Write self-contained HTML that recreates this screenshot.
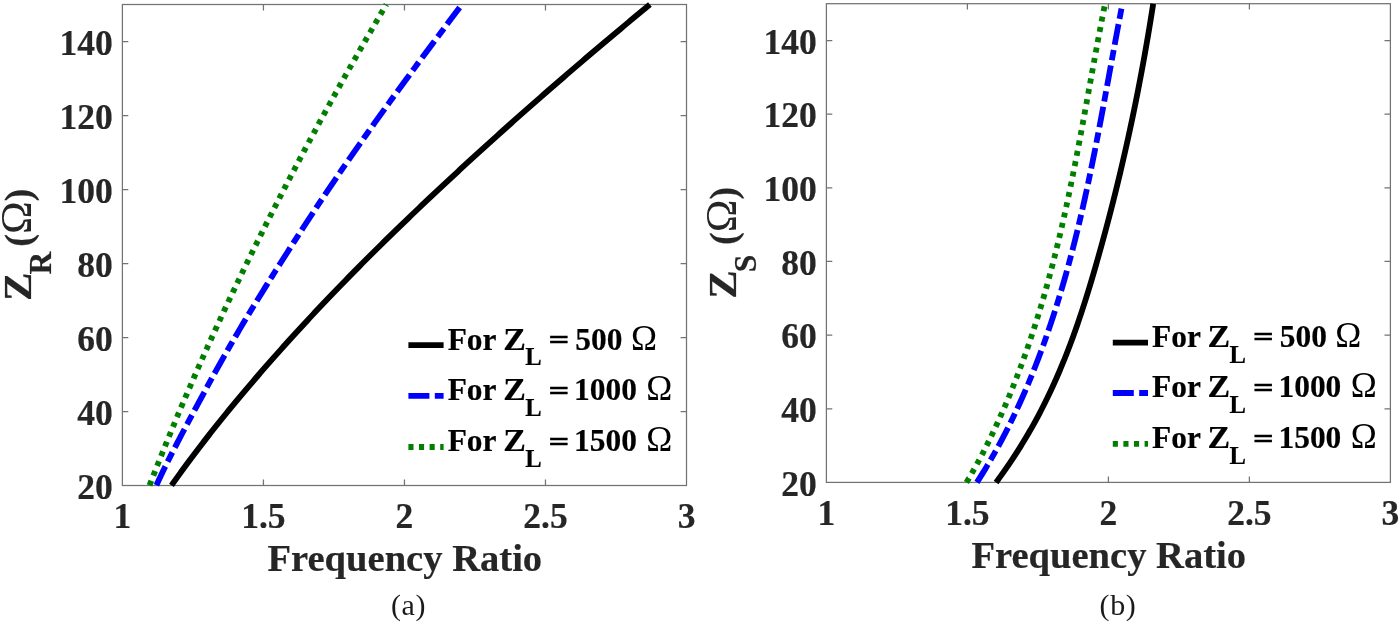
<!DOCTYPE html>
<html><head><meta charset="utf-8"><style>
html,body{margin:0;padding:0;background:#fff;width:1400px;height:624px;overflow:hidden}
svg{display:block;will-change:transform}
text{font-family:"Liberation Serif",serif}
</style></head><body>
<svg width="1400" height="624" viewBox="0 0 1400 624">
<rect width="1400" height="624" fill="#fff"/>
<rect x="122.4" y="4.5" width="564.10" height="481.00" fill="none" stroke="#737373" stroke-width="1.25"/>
<path d="M263.43,485.5v-5.9M263.43,4.5v5.9M404.45,485.5v-5.9M404.45,4.5v5.9M545.48,485.5v-5.9M545.48,4.5v5.9M122.4,411.50h5.9M686.5,411.50h-5.9M122.4,337.50h5.9M686.5,337.50h-5.9M122.4,263.50h5.9M686.5,263.50h-5.9M122.4,189.50h5.9M686.5,189.50h-5.9M122.4,115.50h5.9M686.5,115.50h-5.9M122.4,41.50h5.9M686.5,41.50h-5.9" stroke="#737373" stroke-width="1.25" fill="none"/>
<path d="M171.47,485.40 L172.89,483.39 L174.32,481.38 L175.75,479.36 L177.19,477.35 L178.63,475.34 L180.09,473.33 L181.55,471.32 L183.01,469.30 L184.48,467.29 L185.96,465.28 L187.45,463.27 L188.94,461.25 L190.44,459.24 L191.94,457.23 L193.45,455.22 L194.97,453.21 L196.50,451.19 L198.03,449.18 L199.56,447.17 L201.11,445.16 L202.65,443.15 L204.21,441.13 L205.77,439.12 L207.34,437.11 L208.91,435.10 L210.49,433.08 L212.07,431.07 L213.66,429.06 L215.26,427.05 L216.86,425.04 L218.47,423.02 L220.08,421.01 L221.70,419.00 L223.33,416.99 L224.96,414.98 L226.60,412.96 L228.24,410.95 L229.88,408.94 L231.54,406.93 L233.20,404.91 L234.86,402.90 L236.53,400.89 L238.20,398.88 L239.88,396.87 L241.57,394.85 L243.26,392.84 L244.95,390.83 L246.65,388.82 L248.36,386.81 L250.07,384.79 L251.78,382.78 L253.50,380.77 L255.23,378.76 L256.96,376.74 L258.70,374.73 L260.44,372.72 L262.18,370.71 L263.94,368.70 L265.69,366.68 L267.45,364.67 L269.22,362.66 L270.99,360.65 L272.76,358.64 L274.54,356.62 L276.33,354.61 L278.12,352.60 L279.91,350.59 L281.71,348.57 L283.52,346.56 L285.33,344.55 L287.14,342.54 L288.96,340.53 L290.78,338.51 L292.61,336.50 L294.44,334.49 L296.28,332.48 L298.13,330.47 L299.97,328.45 L301.83,326.44 L303.68,324.43 L305.55,322.42 L307.41,320.41 L309.28,318.39 L311.16,316.38 L313.04,314.37 L314.93,312.36 L316.82,310.34 L318.71,308.33 L320.61,306.32 L322.52,304.31 L324.43,302.30 L326.34,300.28 L328.26,298.27 L330.18,296.26 L332.11,294.25 L334.04,292.24 L335.98,290.22 L337.92,288.21 L339.87,286.20 L341.82,284.19 L343.78,282.17 L345.74,280.16 L347.71,278.15 L349.68,276.14 L351.65,274.13 L353.63,272.11 L355.61,270.10 L357.60,268.09 L359.60,266.08 L361.59,264.07 L363.60,262.05 L365.60,260.04 L367.61,258.03 L369.63,256.02 L371.65,254.00 L373.67,251.99 L375.70,249.98 L377.74,247.97 L379.78,245.96 L381.82,243.94 L383.86,241.93 L385.91,239.92 L387.97,237.91 L390.03,235.90 L392.09,233.88 L394.16,231.87 L396.23,229.86 L398.31,227.85 L400.39,225.83 L402.47,223.82 L404.56,221.81 L406.65,219.80 L408.74,217.79 L410.84,215.77 L412.94,213.76 L415.05,211.75 L417.16,209.74 L419.27,207.73 L421.39,205.71 L423.51,203.70 L425.64,201.69 L427.77,199.68 L429.90,197.66 L432.03,195.65 L434.17,193.64 L436.31,191.63 L438.46,189.62 L440.61,187.60 L442.76,185.59 L444.92,183.58 L447.08,181.57 L449.24,179.56 L451.41,177.54 L453.57,175.53 L455.75,173.52 L457.92,171.51 L460.10,169.49 L462.28,167.48 L464.47,165.47 L466.66,163.46 L468.85,161.45 L471.05,159.43 L473.25,157.42 L475.45,155.41 L477.66,153.40 L479.87,151.39 L482.08,149.37 L484.30,147.36 L486.52,145.35 L488.74,143.34 L490.96,141.33 L493.19,139.31 L495.43,137.30 L497.66,135.29 L499.90,133.28 L502.14,131.26 L504.39,129.25 L506.64,127.24 L508.89,125.23 L511.15,123.22 L513.41,121.20 L515.67,119.19 L517.94,117.18 L520.21,115.17 L522.48,113.16 L524.75,111.14 L527.03,109.13 L529.31,107.12 L531.60,105.11 L533.89,103.09 L536.18,101.08 L538.48,99.07 L540.78,97.06 L543.08,95.05 L545.38,93.03 L547.69,91.02 L550.00,89.01 L552.32,87.00 L554.64,84.99 L556.96,82.97 L559.28,80.96 L561.61,78.95 L563.94,76.94 L566.27,74.92 L568.61,72.91 L570.95,70.90 L573.29,68.89 L575.64,66.88 L577.99,64.86 L580.34,62.85 L582.70,60.84 L585.06,58.83 L587.42,56.82 L589.78,54.80 L592.15,52.79 L594.52,50.78 L596.90,48.77 L599.28,46.75 L601.66,44.74 L604.04,42.73 L606.43,40.72 L608.82,38.71 L611.21,36.69 L613.60,34.68 L616.00,32.67 L618.40,30.66 L620.81,28.65 L623.22,26.63 L625.63,24.62 L628.04,22.61 L630.46,20.60 L632.88,18.58 L635.30,16.57 L637.73,14.56 L640.15,12.55 L642.58,10.54 L645.02,8.52 L647.46,6.51 L649.90,4.50" fill="none" stroke="#000000" stroke-width="5.8"/>
<path d="M156.41,485.30 L157.33,483.29 L158.25,481.28 L159.18,479.26 L160.12,477.25 L161.07,475.24 L162.03,473.23 L162.99,471.22 L163.96,469.21 L164.94,467.19 L165.93,465.18 L166.92,463.17 L167.92,461.16 L168.93,459.15 L169.94,457.14 L170.96,455.12 L171.98,453.11 L173.01,451.10 L174.04,449.09 L175.08,447.08 L176.12,445.07 L177.17,443.05 L178.21,441.04 L179.27,439.03 L180.32,437.02 L181.38,435.01 L182.44,433.00 L183.50,430.98 L184.57,428.97 L185.63,426.96 L186.70,424.95 L187.77,422.94 L188.84,420.93 L189.92,418.91 L190.99,416.90 L192.06,414.89 L193.14,412.88 L194.22,410.87 L195.29,408.85 L196.37,406.84 L197.45,404.83 L198.53,402.82 L199.61,400.81 L200.70,398.80 L201.78,396.78 L202.87,394.77 L203.96,392.76 L205.05,390.75 L206.14,388.74 L207.23,386.73 L208.33,384.71 L209.43,382.70 L210.53,380.69 L211.63,378.68 L212.73,376.67 L213.84,374.66 L214.95,372.64 L216.06,370.63 L217.18,368.62 L218.30,366.61 L219.42,364.60 L220.54,362.59 L221.67,360.57 L222.80,358.56 L223.93,356.55 L225.07,354.54 L226.21,352.53 L227.36,350.52 L228.51,348.50 L229.66,346.49 L230.81,344.48 L231.97,342.47 L233.14,340.46 L234.31,338.44 L235.48,336.43 L236.65,334.42 L237.84,332.41 L239.02,330.40 L240.21,328.39 L241.40,326.37 L242.60,324.36 L243.80,322.35 L245.00,320.34 L246.21,318.33 L247.42,316.32 L248.64,314.30 L249.86,312.29 L251.08,310.28 L252.30,308.27 L253.53,306.26 L254.76,304.25 L256.00,302.23 L257.23,300.22 L258.47,298.21 L259.72,296.20 L260.96,294.19 L262.21,292.18 L263.46,290.16 L264.71,288.15 L265.97,286.14 L267.23,284.13 L268.49,282.12 L269.75,280.11 L271.01,278.09 L272.28,276.08 L273.54,274.07 L274.81,272.06 L276.08,270.05 L277.36,268.03 L278.63,266.02 L279.90,264.01 L281.18,262.00 L282.46,259.99 L283.74,257.98 L285.02,255.96 L286.30,253.95 L287.58,251.94 L288.87,249.93 L290.16,247.92 L291.45,245.91 L292.74,243.89 L294.03,241.88 L295.32,239.87 L296.62,237.86 L297.91,235.85 L299.21,233.84 L300.51,231.82 L301.82,229.81 L303.12,227.80 L304.43,225.79 L305.74,223.78 L307.05,221.77 L308.36,219.75 L309.68,217.74 L311.00,215.73 L312.32,213.72 L313.64,211.71 L314.97,209.69 L316.30,207.68 L317.63,205.67 L318.96,203.66 L320.30,201.65 L321.63,199.64 L322.98,197.62 L324.32,195.61 L325.67,193.60 L327.01,191.59 L328.37,189.58 L329.72,187.57 L331.08,185.55 L332.44,183.54 L333.80,181.53 L335.17,179.52 L336.54,177.51 L337.91,175.50 L339.29,173.48 L340.66,171.47 L342.04,169.46 L343.43,167.45 L344.81,165.44 L346.20,163.43 L347.59,161.41 L348.98,159.40 L350.38,157.39 L351.78,155.38 L353.18,153.37 L354.58,151.36 L355.98,149.34 L357.39,147.33 L358.80,145.32 L360.21,143.31 L361.63,141.30 L363.05,139.28 L364.47,137.27 L365.89,135.26 L367.31,133.25 L368.74,131.24 L370.17,129.23 L371.60,127.21 L373.03,125.20 L374.46,123.19 L375.90,121.18 L377.34,119.17 L378.78,117.16 L380.22,115.14 L381.67,113.13 L383.11,111.12 L384.56,109.11 L386.01,107.10 L387.47,105.09 L388.92,103.07 L390.38,101.06 L391.83,99.05 L393.29,97.04 L394.75,95.03 L396.22,93.02 L397.68,91.00 L399.15,88.99 L400.62,86.98 L402.09,84.97 L403.56,82.96 L405.03,80.95 L406.50,78.93 L407.98,76.92 L409.46,74.91 L410.94,72.90 L412.42,70.89 L413.90,68.87 L415.38,66.86 L416.87,64.85 L418.35,62.84 L419.84,60.83 L421.33,58.82 L422.82,56.80 L424.31,54.79 L425.80,52.78 L427.30,50.77 L428.79,48.76 L430.29,46.75 L431.78,44.73 L433.28,42.72 L434.78,40.71 L436.28,38.70 L437.78,36.69 L439.28,34.68 L440.79,32.66 L442.29,30.65 L443.80,28.64 L445.30,26.63 L446.81,24.62 L448.32,22.61 L449.82,20.59 L451.33,18.58 L452.84,16.57 L454.35,14.56 L455.86,12.55 L457.38,10.54 L458.89,8.52 L460.40,6.51 L461.92,4.50" fill="none" stroke="#0000ff" stroke-width="5.8" stroke-dasharray="20.9 5.35 10.4 5.35" stroke-dashoffset="0"/>
<path d="M149.51,485.40 L150.29,483.39 L151.07,481.38 L151.86,479.36 L152.64,477.35 L153.43,475.34 L154.22,473.33 L155.01,471.32 L155.80,469.30 L156.60,467.29 L157.39,465.28 L158.19,463.27 L158.99,461.25 L159.79,459.24 L160.60,457.23 L161.40,455.22 L162.21,453.21 L163.02,451.19 L163.83,449.18 L164.65,447.17 L165.46,445.16 L166.28,443.15 L167.10,441.13 L167.92,439.12 L168.74,437.11 L169.57,435.10 L170.40,433.08 L171.23,431.07 L172.06,429.06 L172.89,427.05 L173.72,425.04 L174.56,423.02 L175.40,421.01 L176.24,419.00 L177.08,416.99 L177.92,414.98 L178.77,412.96 L179.62,410.95 L180.47,408.94 L181.32,406.93 L182.17,404.91 L183.03,402.90 L183.88,400.89 L184.74,398.88 L185.60,396.87 L186.47,394.85 L187.33,392.84 L188.20,390.83 L189.06,388.82 L189.93,386.81 L190.81,384.79 L191.68,382.78 L192.55,380.77 L193.43,378.76 L194.31,376.74 L195.19,374.73 L196.07,372.72 L196.96,370.71 L197.85,368.70 L198.73,366.68 L199.62,364.67 L200.52,362.66 L201.41,360.65 L202.30,358.64 L203.20,356.62 L204.10,354.61 L205.00,352.60 L205.90,350.59 L206.81,348.57 L207.72,346.56 L208.62,344.55 L209.53,342.54 L210.45,340.53 L211.36,338.51 L212.27,336.50 L213.19,334.49 L214.11,332.48 L215.03,330.47 L215.95,328.45 L216.88,326.44 L217.80,324.43 L218.73,322.42 L219.66,320.41 L220.59,318.39 L221.53,316.38 L222.46,314.37 L223.40,312.36 L224.34,310.34 L225.28,308.33 L226.22,306.32 L227.16,304.31 L228.11,302.30 L229.05,300.28 L230.00,298.27 L230.95,296.26 L231.91,294.25 L232.86,292.24 L233.82,290.22 L234.77,288.21 L235.73,286.20 L236.70,284.19 L237.66,282.17 L238.62,280.16 L239.59,278.15 L240.56,276.14 L241.53,274.13 L242.50,272.11 L243.47,270.10 L244.45,268.09 L245.42,266.08 L246.40,264.07 L247.38,262.05 L248.37,260.04 L249.35,258.03 L250.33,256.02 L251.32,254.00 L252.31,251.99 L253.30,249.98 L254.29,247.97 L255.29,245.96 L256.28,243.94 L257.28,241.93 L258.28,239.92 L259.28,237.91 L260.28,235.90 L261.29,233.88 L262.29,231.87 L263.30,229.86 L264.31,227.85 L265.32,225.83 L266.33,223.82 L267.35,221.81 L268.36,219.80 L269.38,217.79 L270.40,215.77 L271.42,213.76 L272.45,211.75 L273.47,209.74 L274.50,207.73 L275.52,205.71 L276.55,203.70 L277.58,201.69 L278.62,199.68 L279.65,197.66 L280.69,195.65 L281.72,193.64 L282.76,191.63 L283.80,189.62 L284.85,187.60 L285.89,185.59 L286.94,183.58 L287.99,181.57 L289.03,179.56 L290.09,177.54 L291.14,175.53 L292.19,173.52 L293.25,171.51 L294.31,169.49 L295.36,167.48 L296.42,165.47 L297.49,163.46 L298.55,161.45 L299.62,159.43 L300.68,157.42 L301.75,155.41 L302.82,153.40 L303.89,151.39 L304.97,149.37 L306.04,147.36 L307.12,145.35 L308.20,143.34 L309.28,141.33 L310.36,139.31 L311.44,137.30 L312.53,135.29 L313.61,133.28 L314.70,131.26 L315.79,129.25 L316.88,127.24 L317.98,125.23 L319.07,123.22 L320.17,121.20 L321.26,119.19 L322.36,117.18 L323.46,115.17 L324.57,113.16 L325.67,111.14 L326.78,109.13 L327.88,107.12 L328.99,105.11 L330.10,103.09 L331.21,101.08 L332.33,99.07 L333.44,97.06 L334.56,95.05 L335.68,93.03 L336.80,91.02 L337.92,89.01 L339.04,87.00 L340.16,84.99 L341.29,82.97 L342.42,80.96 L343.54,78.95 L344.67,76.94 L345.81,74.92 L346.94,72.91 L348.08,70.90 L349.21,68.89 L350.35,66.88 L351.49,64.86 L352.63,62.85 L353.77,60.84 L354.92,58.83 L356.06,56.82 L357.21,54.80 L358.36,52.79 L359.51,50.78 L360.66,48.77 L361.81,46.75 L362.97,44.74 L364.12,42.73 L365.28,40.72 L366.44,38.71 L367.60,36.69 L368.76,34.68 L369.93,32.67 L371.09,30.66 L372.26,28.65 L373.43,26.63 L374.60,24.62 L375.77,22.61 L376.94,20.60 L378.12,18.58 L379.29,16.57 L380.47,14.56 L381.65,12.55 L382.83,10.54 L384.01,8.52 L385.19,6.51 L386.38,4.50" fill="none" stroke="#007f00" stroke-width="5.8" stroke-dasharray="5.0 5.5" stroke-dashoffset="0"/>
<g fill="#262626" stroke="#262626" stroke-width="0.2" font-weight="bold" font-size="35.5">
<text x="112.80" y="498.80" text-anchor="end">20</text>
<text x="112.80" y="424.80" text-anchor="end">40</text>
<text x="112.80" y="350.80" text-anchor="end">60</text>
<text x="112.80" y="276.80" text-anchor="end">80</text>
<text x="112.80" y="202.80" text-anchor="end">100</text>
<text x="112.80" y="128.80" text-anchor="end">120</text>
<text x="112.80" y="54.80" text-anchor="end">140</text>
<text x="122.40" y="527.60" text-anchor="middle">1</text>
<text x="263.43" y="527.60" text-anchor="middle">1.5</text>
<text x="404.45" y="527.60" text-anchor="middle">2</text>
<text x="545.48" y="527.60" text-anchor="middle">2.5</text>
<text x="686.50" y="527.60" text-anchor="middle">3</text>
</g>
<text x="404.85" y="571.10" font-size="38.6" font-weight="bold" text-anchor="middle" fill="#262626" stroke="#262626" stroke-width="0.2">Frequency Ratio</text>
<text x="408.45" y="614.80" font-size="30" text-anchor="middle" fill="#1a1a1a" letter-spacing="0.6">(a)</text>
<g fill="#262626" stroke="#262626" stroke-width="0.2" transform="translate(31.20,300.80) rotate(-90)"><text transform="translate(1.90,0) scale(1.08,1)" x="-1.90" y="0" font-size="39.5" font-weight="bold">Z</text><text x="26.35" y="19.8" font-size="31.5" font-weight="bold">R</text></g>
<g fill="#262626" stroke="#262626" stroke-width="0.2" transform="translate(31.20,246.67) rotate(-90)"><text x="0" y="0" font-size="38.0" font-weight="bold">(<tspan font-size="44.0" font-weight="normal" stroke="none">&#937;</tspan>)</text></g>
<path d="M408.4,345.20h35.2" stroke="#000000" stroke-width="5.8" fill="none"/>
<g fill="#000" stroke="#000" stroke-width="0.2" font-weight="bold" font-size="31.4"><text x="447.67" y="349.60" font-size="31.4">For</text><text transform="translate(504.80,349.60) scale(1.08,1)" x="-1.51" y="0">Z</text><text x="525.18" y="365.20" font-size="24.6">L</text><text transform="translate(550.40,340.25) scale(1.16,0.84)" x="-1.57" y="10.2" stroke="#000" stroke-width="0.5">=</text><text x="575.34" y="349.60" font-size="31.4">500</text><text x="630.88" y="349.60" font-size="35.0" font-weight="normal" stroke="none">&#937;</text></g>
<path d="M408.4,395.90h35.2" stroke="#0000ff" stroke-width="5.8" stroke-dasharray="21 5.4 10.4 5.4" fill="none"/>
<g fill="#000" stroke="#000" stroke-width="0.2" font-weight="bold" font-size="31.4"><text x="447.67" y="400.30" font-size="31.4">For</text><text transform="translate(504.80,400.30) scale(1.08,1)" x="-1.51" y="0">Z</text><text x="525.18" y="415.90" font-size="24.6">L</text><text transform="translate(550.40,390.95) scale(1.16,0.84)" x="-1.57" y="10.2" stroke="#000" stroke-width="0.5">=</text><text x="574.09" y="400.30" font-size="31.4">1000</text><text x="646.28" y="400.30" font-size="35.0" font-weight="normal" stroke="none">&#937;</text></g>
<path d="M408.4,447.00h35.2" stroke="#007f00" stroke-width="5.8" stroke-dasharray="5.1 5.5" fill="none"/>
<g fill="#000" stroke="#000" stroke-width="0.2" font-weight="bold" font-size="31.4"><text x="447.67" y="451.40" font-size="31.4">For</text><text transform="translate(504.80,451.40) scale(1.08,1)" x="-1.51" y="0">Z</text><text x="525.18" y="467.00" font-size="24.6">L</text><text transform="translate(550.40,442.05) scale(1.16,0.84)" x="-1.57" y="10.2" stroke="#000" stroke-width="0.5">=</text><text x="574.09" y="451.40" font-size="31.4">1500</text><text x="646.28" y="451.40" font-size="35.0" font-weight="normal" stroke="none">&#937;</text></g>
<rect x="826.4" y="3.7" width="564.00" height="478.70" fill="none" stroke="#737373" stroke-width="1.25"/>
<path d="M967.40,482.4v-5.9M967.40,3.7v5.9M1108.40,482.4v-5.9M1108.40,3.7v5.9M1249.40,482.4v-5.9M1249.40,3.7v5.9M826.4,408.75h5.9M1390.4,408.75h-5.9M826.4,335.11h5.9M1390.4,335.11h-5.9M826.4,261.46h5.9M1390.4,261.46h-5.9M826.4,187.82h5.9M1390.4,187.82h-5.9M826.4,114.17h5.9M1390.4,114.17h-5.9M826.4,40.52h5.9M1390.4,40.52h-5.9" stroke="#737373" stroke-width="1.25" fill="none"/>
<path d="M996.06,482.40 L997.54,480.40 L999.01,478.39 L1000.46,476.39 L1001.90,474.39 L1003.33,472.39 L1004.74,470.38 L1006.13,468.38 L1007.52,466.38 L1008.89,464.37 L1010.25,462.37 L1011.59,460.37 L1012.92,458.36 L1014.24,456.36 L1015.54,454.36 L1016.83,452.36 L1018.11,450.35 L1019.38,448.35 L1020.63,446.35 L1021.87,444.34 L1023.10,442.34 L1024.31,440.34 L1025.52,438.34 L1026.71,436.33 L1027.89,434.33 L1029.05,432.33 L1030.21,430.32 L1031.35,428.32 L1032.48,426.32 L1033.60,424.32 L1034.71,422.31 L1035.81,420.31 L1036.89,418.31 L1037.97,416.30 L1039.03,414.30 L1040.08,412.30 L1041.12,410.29 L1042.15,408.29 L1043.17,406.29 L1044.18,404.29 L1045.18,402.28 L1046.17,400.28 L1047.15,398.28 L1048.12,396.27 L1049.08,394.27 L1050.03,392.27 L1050.97,390.27 L1051.90,388.26 L1052.82,386.26 L1053.73,384.26 L1054.64,382.25 L1055.53,380.25 L1056.42,378.25 L1057.29,376.24 L1058.16,374.24 L1059.02,372.24 L1059.88,370.24 L1060.72,368.23 L1061.56,366.23 L1062.39,364.23 L1063.21,362.22 L1064.02,360.22 L1064.83,358.22 L1065.63,356.22 L1066.42,354.21 L1067.20,352.21 L1067.98,350.21 L1068.75,348.20 L1069.51,346.20 L1070.27,344.20 L1071.02,342.19 L1071.77,340.19 L1072.50,338.19 L1073.24,336.19 L1073.96,334.18 L1074.68,332.18 L1075.39,330.18 L1076.10,328.17 L1076.80,326.17 L1077.50,324.17 L1078.19,322.17 L1078.87,320.16 L1079.55,318.16 L1080.22,316.16 L1080.89,314.15 L1081.56,312.15 L1082.22,310.15 L1082.87,308.15 L1083.52,306.14 L1084.17,304.14 L1084.81,302.14 L1085.44,300.13 L1086.07,298.13 L1086.70,296.13 L1087.33,294.12 L1087.95,292.12 L1088.56,290.12 L1089.17,288.12 L1089.78,286.11 L1090.39,284.11 L1090.99,282.11 L1091.59,280.10 L1092.18,278.10 L1092.77,276.10 L1093.36,274.10 L1093.95,272.09 L1094.53,270.09 L1095.11,268.09 L1095.69,266.08 L1096.27,264.08 L1096.84,262.08 L1097.41,260.07 L1097.98,258.07 L1098.55,256.07 L1099.11,254.07 L1099.67,252.06 L1100.23,250.06 L1100.79,248.06 L1101.34,246.05 L1101.90,244.05 L1102.45,242.05 L1103.00,240.05 L1103.54,238.04 L1104.09,236.04 L1104.63,234.04 L1105.17,232.03 L1105.71,230.03 L1106.25,228.03 L1106.78,226.03 L1107.31,224.02 L1107.84,222.02 L1108.37,220.02 L1108.89,218.01 L1109.42,216.01 L1109.94,214.01 L1110.45,212.00 L1110.97,210.00 L1111.49,208.00 L1112.00,206.00 L1112.51,203.99 L1113.02,201.99 L1113.52,199.99 L1114.02,197.98 L1114.53,195.98 L1115.03,193.98 L1115.52,191.98 L1116.02,189.97 L1116.51,187.97 L1117.00,185.97 L1117.49,183.96 L1117.98,181.96 L1118.46,179.96 L1118.94,177.95 L1119.42,175.95 L1119.90,173.95 L1120.38,171.95 L1120.85,169.94 L1121.33,167.94 L1121.80,165.94 L1122.26,163.93 L1122.73,161.93 L1123.19,159.93 L1123.65,157.93 L1124.11,155.92 L1124.57,153.92 L1125.03,151.92 L1125.48,149.91 L1125.93,147.91 L1126.38,145.91 L1126.83,143.91 L1127.27,141.90 L1127.72,139.90 L1128.16,137.90 L1128.60,135.89 L1129.03,133.89 L1129.47,131.89 L1129.90,129.88 L1130.33,127.88 L1130.76,125.88 L1131.19,123.88 L1131.61,121.87 L1132.04,119.87 L1132.46,117.87 L1132.87,115.86 L1133.29,113.86 L1133.71,111.86 L1134.12,109.86 L1134.53,107.85 L1134.94,105.85 L1135.35,103.85 L1135.75,101.84 L1136.15,99.84 L1136.55,97.84 L1136.95,95.83 L1137.35,93.83 L1137.74,91.83 L1138.14,89.83 L1138.53,87.82 L1138.92,85.82 L1139.30,83.82 L1139.69,81.81 L1140.07,79.81 L1140.45,77.81 L1140.83,75.81 L1141.21,73.80 L1141.58,71.80 L1141.96,69.80 L1142.33,67.79 L1142.70,65.79 L1143.06,63.79 L1143.43,61.78 L1143.79,59.78 L1144.16,57.78 L1144.52,55.78 L1144.87,53.77 L1145.23,51.77 L1145.58,49.77 L1145.93,47.76 L1146.28,45.76 L1146.63,43.76 L1146.98,41.76 L1147.32,39.75 L1147.67,37.75 L1148.01,35.75 L1148.35,33.74 L1148.68,31.74 L1149.02,29.74 L1149.35,27.74 L1149.68,25.73 L1150.01,23.73 L1150.34,21.73 L1150.66,19.72 L1150.99,17.72 L1151.31,15.72 L1151.63,13.71 L1151.95,11.71 L1152.26,9.71 L1152.58,7.71 L1152.89,5.70 L1153.20,3.70" fill="none" stroke="#000000" stroke-width="5.8"/>
<path d="M976.92,482.40 L978.19,480.40 L979.45,478.39 L980.71,476.39 L981.95,474.39 L983.18,472.39 L984.40,470.38 L985.61,468.38 L986.81,466.38 L988.00,464.37 L989.18,462.37 L990.35,460.37 L991.50,458.36 L992.65,456.36 L993.79,454.36 L994.92,452.36 L996.04,450.35 L997.15,448.35 L998.25,446.35 L999.34,444.34 L1000.42,442.34 L1001.49,440.34 L1002.55,438.34 L1003.60,436.33 L1004.65,434.33 L1005.68,432.33 L1006.71,430.32 L1007.72,428.32 L1008.73,426.32 L1009.73,424.32 L1010.72,422.31 L1011.70,420.31 L1012.68,418.31 L1013.64,416.30 L1014.60,414.30 L1015.55,412.30 L1016.49,410.29 L1017.42,408.29 L1018.35,406.29 L1019.27,404.29 L1020.18,402.28 L1021.08,400.28 L1021.97,398.28 L1022.86,396.27 L1023.74,394.27 L1024.62,392.27 L1025.48,390.27 L1026.34,388.26 L1027.19,386.26 L1028.04,384.26 L1028.88,382.25 L1029.71,380.25 L1030.53,378.25 L1031.35,376.24 L1032.16,374.24 L1032.97,372.24 L1033.77,370.24 L1034.56,368.23 L1035.35,366.23 L1036.13,364.23 L1036.90,362.22 L1037.67,360.22 L1038.44,358.22 L1039.19,356.22 L1039.95,354.21 L1040.69,352.21 L1041.43,350.21 L1042.17,348.20 L1042.90,346.20 L1043.63,344.20 L1044.35,342.19 L1045.06,340.19 L1045.77,338.19 L1046.48,336.19 L1047.18,334.18 L1047.87,332.18 L1048.56,330.18 L1049.24,328.17 L1049.92,326.17 L1050.60,324.17 L1051.27,322.17 L1051.93,320.16 L1052.60,318.16 L1053.25,316.16 L1053.90,314.15 L1054.55,312.15 L1055.19,310.15 L1055.83,308.15 L1056.46,306.14 L1057.09,304.14 L1057.71,302.14 L1058.33,300.13 L1058.95,298.13 L1059.56,296.13 L1060.16,294.12 L1060.76,292.12 L1061.36,290.12 L1061.96,288.12 L1062.55,286.11 L1063.13,284.11 L1063.71,282.11 L1064.29,280.10 L1064.86,278.10 L1065.43,276.10 L1066.00,274.10 L1066.56,272.09 L1067.12,270.09 L1067.67,268.09 L1068.22,266.08 L1068.77,264.08 L1069.31,262.08 L1069.85,260.07 L1070.38,258.07 L1070.91,256.07 L1071.44,254.07 L1071.97,252.06 L1072.49,250.06 L1073.01,248.06 L1073.52,246.05 L1074.03,244.05 L1074.54,242.05 L1075.04,240.05 L1075.54,238.04 L1076.04,236.04 L1076.54,234.04 L1077.03,232.03 L1077.52,230.03 L1078.00,228.03 L1078.49,226.03 L1078.97,224.02 L1079.44,222.02 L1079.92,220.02 L1080.39,218.01 L1080.86,216.01 L1081.32,214.01 L1081.78,212.00 L1082.24,210.00 L1082.70,208.00 L1083.16,206.00 L1083.61,203.99 L1084.06,201.99 L1084.51,199.99 L1084.95,197.98 L1085.39,195.98 L1085.83,193.98 L1086.27,191.98 L1086.71,189.97 L1087.14,187.97 L1087.57,185.97 L1088.00,183.96 L1088.42,181.96 L1088.85,179.96 L1089.27,177.95 L1089.69,175.95 L1090.11,173.95 L1090.53,171.95 L1090.94,169.94 L1091.35,167.94 L1091.76,165.94 L1092.17,163.93 L1092.58,161.93 L1092.98,159.93 L1093.39,157.93 L1093.79,155.92 L1094.19,153.92 L1094.59,151.92 L1094.99,149.91 L1095.38,147.91 L1095.78,145.91 L1096.17,143.91 L1096.56,141.90 L1096.95,139.90 L1097.34,137.90 L1097.73,135.89 L1098.11,133.89 L1098.50,131.89 L1098.88,129.88 L1099.27,127.88 L1099.65,125.88 L1100.03,123.88 L1100.41,121.87 L1100.79,119.87 L1101.16,117.87 L1101.54,115.86 L1101.92,113.86 L1102.29,111.86 L1102.67,109.86 L1103.04,107.85 L1103.41,105.85 L1103.79,103.85 L1104.16,101.84 L1104.53,99.84 L1104.90,97.84 L1105.27,95.83 L1105.64,93.83 L1106.01,91.83 L1106.38,89.83 L1106.75,87.82 L1107.12,85.82 L1107.48,83.82 L1107.85,81.81 L1108.22,79.81 L1108.59,77.81 L1108.96,75.81 L1109.32,73.80 L1109.69,71.80 L1110.06,69.80 L1110.42,67.79 L1110.79,65.79 L1111.16,63.79 L1111.53,61.78 L1111.90,59.78 L1112.26,57.78 L1112.63,55.78 L1113.00,53.77 L1113.37,51.77 L1113.74,49.77 L1114.11,47.76 L1114.48,45.76 L1114.85,43.76 L1115.22,41.76 L1115.59,39.75 L1115.97,37.75 L1116.34,35.75 L1116.71,33.74 L1117.09,31.74 L1117.46,29.74 L1117.84,27.74 L1118.22,25.73 L1118.59,23.73 L1118.97,21.73 L1119.35,19.72 L1119.73,17.72 L1120.12,15.72 L1120.50,13.71 L1120.88,11.71 L1121.27,9.71 L1121.65,7.71 L1122.04,5.70 L1122.43,3.70" fill="none" stroke="#0000ff" stroke-width="5.8" stroke-dasharray="20.9 5.35 10.4 5.35" stroke-dashoffset="0"/>
<path d="M966.41,482.40 L967.61,480.40 L968.81,478.39 L969.99,476.39 L971.15,474.39 L972.31,472.39 L973.45,470.38 L974.58,468.38 L975.70,466.38 L976.80,464.37 L977.90,462.37 L978.98,460.37 L980.05,458.36 L981.11,456.36 L982.16,454.36 L983.21,452.36 L984.24,450.35 L985.26,448.35 L986.27,446.35 L987.27,444.34 L988.27,442.34 L989.25,440.34 L990.23,438.34 L991.20,436.33 L992.16,434.33 L993.11,432.33 L994.05,430.32 L994.99,428.32 L995.92,426.32 L996.85,424.32 L997.76,422.31 L998.67,420.31 L999.58,418.31 L1000.48,416.30 L1001.37,414.30 L1002.25,412.30 L1003.13,410.29 L1004.00,408.29 L1004.87,406.29 L1005.73,404.29 L1006.58,402.28 L1007.43,400.28 L1008.27,398.28 L1009.11,396.27 L1009.94,394.27 L1010.76,392.27 L1011.58,390.27 L1012.39,388.26 L1013.19,386.26 L1013.99,384.26 L1014.79,382.25 L1015.57,380.25 L1016.36,378.25 L1017.13,376.24 L1017.90,374.24 L1018.67,372.24 L1019.43,370.24 L1020.18,368.23 L1020.93,366.23 L1021.67,364.23 L1022.41,362.22 L1023.14,360.22 L1023.87,358.22 L1024.59,356.22 L1025.31,354.21 L1026.02,352.21 L1026.72,350.21 L1027.42,348.20 L1028.12,346.20 L1028.81,344.20 L1029.50,342.19 L1030.18,340.19 L1030.85,338.19 L1031.52,336.19 L1032.19,334.18 L1032.85,332.18 L1033.51,330.18 L1034.16,328.17 L1034.80,326.17 L1035.44,324.17 L1036.08,322.17 L1036.71,320.16 L1037.34,318.16 L1037.97,316.16 L1038.58,314.15 L1039.20,312.15 L1039.81,310.15 L1040.42,308.15 L1041.02,306.14 L1041.61,304.14 L1042.21,302.14 L1042.80,300.13 L1043.38,298.13 L1043.96,296.13 L1044.54,294.12 L1045.11,292.12 L1045.68,290.12 L1046.24,288.12 L1046.80,286.11 L1047.36,284.11 L1047.91,282.11 L1048.46,280.10 L1049.00,278.10 L1049.54,276.10 L1050.08,274.10 L1050.62,272.09 L1051.15,270.09 L1051.67,268.09 L1052.20,266.08 L1052.72,264.08 L1053.23,262.08 L1053.74,260.07 L1054.25,258.07 L1054.76,256.07 L1055.26,254.07 L1055.76,252.06 L1056.26,250.06 L1056.75,248.06 L1057.24,246.05 L1057.73,244.05 L1058.21,242.05 L1058.69,240.05 L1059.17,238.04 L1059.64,236.04 L1060.11,234.04 L1060.58,232.03 L1061.05,230.03 L1061.51,228.03 L1061.97,226.03 L1062.43,224.02 L1062.88,222.02 L1063.34,220.02 L1063.78,218.01 L1064.23,216.01 L1064.68,214.01 L1065.12,212.00 L1065.56,210.00 L1066.00,208.00 L1066.43,206.00 L1066.86,203.99 L1067.29,201.99 L1067.72,199.99 L1068.15,197.98 L1068.57,195.98 L1068.99,193.98 L1069.41,191.98 L1069.83,189.97 L1070.24,187.97 L1070.66,185.97 L1071.07,183.96 L1071.48,181.96 L1071.88,179.96 L1072.29,177.95 L1072.69,175.95 L1073.09,173.95 L1073.49,171.95 L1073.89,169.94 L1074.29,167.94 L1074.69,165.94 L1075.08,163.93 L1075.47,161.93 L1075.86,159.93 L1076.25,157.93 L1076.64,155.92 L1077.03,153.92 L1077.41,151.92 L1077.80,149.91 L1078.18,147.91 L1078.56,145.91 L1078.94,143.91 L1079.32,141.90 L1079.70,139.90 L1080.08,137.90 L1080.45,135.89 L1080.83,133.89 L1081.20,131.89 L1081.58,129.88 L1081.95,127.88 L1082.32,125.88 L1082.69,123.88 L1083.06,121.87 L1083.43,119.87 L1083.80,117.87 L1084.17,115.86 L1084.54,113.86 L1084.91,111.86 L1085.27,109.86 L1085.64,107.85 L1086.00,105.85 L1086.37,103.85 L1086.74,101.84 L1087.10,99.84 L1087.47,97.84 L1087.83,95.83 L1088.19,93.83 L1088.56,91.83 L1088.92,89.83 L1089.29,87.82 L1089.65,85.82 L1090.01,83.82 L1090.38,81.81 L1090.74,79.81 L1091.11,77.81 L1091.47,75.81 L1091.84,73.80 L1092.20,71.80 L1092.57,69.80 L1092.93,67.79 L1093.30,65.79 L1093.66,63.79 L1094.03,61.78 L1094.40,59.78 L1094.76,57.78 L1095.13,55.78 L1095.50,53.77 L1095.87,51.77 L1096.24,49.77 L1096.61,47.76 L1096.98,45.76 L1097.36,43.76 L1097.73,41.76 L1098.10,39.75 L1098.48,37.75 L1098.85,35.75 L1099.23,33.74 L1099.61,31.74 L1099.99,29.74 L1100.37,27.74 L1100.75,25.73 L1101.13,23.73 L1101.52,21.73 L1101.90,19.72 L1102.29,17.72 L1102.68,15.72 L1103.07,13.71 L1103.46,11.71 L1103.85,9.71 L1104.24,7.71 L1104.64,5.70 L1105.03,3.70" fill="none" stroke="#007f00" stroke-width="5.8" stroke-dasharray="5.0 5.5" stroke-dashoffset="0"/>
<g fill="#262626" stroke="#262626" stroke-width="0.2" font-weight="bold" font-size="35.5">
<text x="816.80" y="495.70" text-anchor="end">20</text>
<text x="816.80" y="422.05" text-anchor="end">40</text>
<text x="816.80" y="348.41" text-anchor="end">60</text>
<text x="816.80" y="274.76" text-anchor="end">80</text>
<text x="816.80" y="201.12" text-anchor="end">100</text>
<text x="816.80" y="127.47" text-anchor="end">120</text>
<text x="816.80" y="53.82" text-anchor="end">140</text>
<text x="826.40" y="524.50" text-anchor="middle">1</text>
<text x="967.40" y="524.50" text-anchor="middle">1.5</text>
<text x="1108.40" y="524.50" text-anchor="middle">2</text>
<text x="1249.40" y="524.50" text-anchor="middle">2.5</text>
<text x="1390.40" y="524.50" text-anchor="middle">3</text>
</g>
<text x="1108.80" y="568.00" font-size="38.6" font-weight="bold" text-anchor="middle" fill="#262626" stroke="#262626" stroke-width="0.2">Frequency Ratio</text>
<text x="1117.95" y="614.80" font-size="30" text-anchor="middle" fill="#1a1a1a" letter-spacing="0.6">(b)</text>
<g fill="#262626" stroke="#262626" stroke-width="0.2" transform="translate(735.70,298.50) rotate(-90)"><text transform="translate(1.90,0) scale(1.08,1)" x="-1.90" y="0" font-size="39.5" font-weight="bold">Z</text><text x="26.35" y="19.8" font-size="31.5" font-weight="bold">S</text></g>
<g fill="#262626" stroke="#262626" stroke-width="0.2" transform="translate(735.70,244.97) rotate(-90)"><text x="0" y="0" font-size="38.0" font-weight="bold">(<tspan font-size="44.0" font-weight="normal" stroke="none">&#937;</tspan>)</text></g>
<path d="M1112.8,342.60h35.2" stroke="#000000" stroke-width="5.8" fill="none"/>
<g fill="#000" stroke="#000" stroke-width="0.2" font-weight="bold" font-size="31.4"><text x="1152.07" y="347.00" font-size="31.4">For</text><text transform="translate(1209.20,347.00) scale(1.08,1)" x="-1.51" y="0">Z</text><text x="1229.58" y="362.60" font-size="24.6">L</text><text transform="translate(1254.80,337.65) scale(1.16,0.84)" x="-1.57" y="10.2" stroke="#000" stroke-width="0.5">=</text><text x="1279.74" y="347.00" font-size="31.4">500</text><text x="1335.28" y="347.00" font-size="35.0" font-weight="normal" stroke="none">&#937;</text></g>
<path d="M1112.8,393.00h35.2" stroke="#0000ff" stroke-width="5.8" stroke-dasharray="21 5.4 10.4 5.4" fill="none"/>
<g fill="#000" stroke="#000" stroke-width="0.2" font-weight="bold" font-size="31.4"><text x="1152.07" y="397.40" font-size="31.4">For</text><text transform="translate(1209.20,397.40) scale(1.08,1)" x="-1.51" y="0">Z</text><text x="1229.58" y="413.00" font-size="24.6">L</text><text transform="translate(1254.80,388.05) scale(1.16,0.84)" x="-1.57" y="10.2" stroke="#000" stroke-width="0.5">=</text><text x="1278.49" y="397.40" font-size="31.4">1000</text><text x="1350.68" y="397.40" font-size="35.0" font-weight="normal" stroke="none">&#937;</text></g>
<path d="M1112.8,443.90h35.2" stroke="#007f00" stroke-width="5.8" stroke-dasharray="5.1 5.5" fill="none"/>
<g fill="#000" stroke="#000" stroke-width="0.2" font-weight="bold" font-size="31.4"><text x="1152.07" y="448.30" font-size="31.4">For</text><text transform="translate(1209.20,448.30) scale(1.08,1)" x="-1.51" y="0">Z</text><text x="1229.58" y="463.90" font-size="24.6">L</text><text transform="translate(1254.80,438.95) scale(1.16,0.84)" x="-1.57" y="10.2" stroke="#000" stroke-width="0.5">=</text><text x="1278.49" y="448.30" font-size="31.4">1500</text><text x="1350.68" y="448.30" font-size="35.0" font-weight="normal" stroke="none">&#937;</text></g>
</svg>
</body></html>
